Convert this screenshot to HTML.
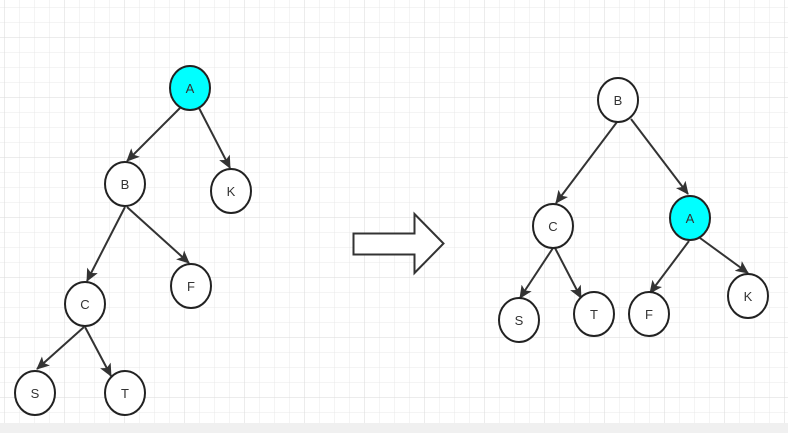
<!DOCTYPE html>
<html><head><meta charset="utf-8"><style>
html,body{margin:0;padding:0;width:788px;height:433px;overflow:hidden;background:#f0f0f0}
svg{display:block}
</style></head><body>
<svg id="s" width="788" height="433" xmlns="http://www.w3.org/2000/svg">
<defs>
<pattern id="minor" width="15" height="15" patternUnits="userSpaceOnUse" x="5" y="8">
<path d="M15 0V15M0 15H15" fill="none" stroke="#e8e8e8" stroke-width="1"/>
</pattern>
<pattern id="major" width="60" height="60" patternUnits="userSpaceOnUse" x="5" y="38">
<path d="M60 0V60M0 60H60" fill="none" stroke="#dadada" stroke-width="1"/>
</pattern>
<marker id="ah" markerWidth="14" markerHeight="12" refX="12" refY="6" orient="auto" markerUnits="userSpaceOnUse">
<path d="M0,0 L13,6 L0,12 L3,6 Z" fill="#333"/>
</marker>
</defs>
<rect x="0" y="0" width="788" height="423" fill="#fff"/>
<rect x="0" y="0" width="788" height="423" fill="url(#minor)"/>
<rect x="0" y="0" width="788" height="423" fill="url(#major)"/>
<g stroke="#333" stroke-width="2" fill="none" marker-end="url(#ah)">
<line x1="180" y1="108" x2="127" y2="161" marker-end="url(#ah)"/>
<line x1="199" y1="108" x2="230" y2="168" marker-end="url(#ah)"/>
<line x1="125" y1="207" x2="87" y2="281" marker-end="url(#ah)"/>
<line x1="127" y1="207" x2="189" y2="263" marker-end="url(#ah)"/>
<line x1="84" y1="327" x2="37" y2="369" marker-end="url(#ah)"/>
<line x1="85" y1="327" x2="111" y2="376" marker-end="url(#ah)"/>
<line x1="617" y1="122" x2="556" y2="203" marker-end="url(#ah)"/>
<line x1="631" y1="119" x2="688" y2="194" marker-end="url(#ah)"/>
<line x1="553" y1="248" x2="520" y2="298" marker-end="url(#ah)"/>
<line x1="555" y1="248" x2="581" y2="298" marker-end="url(#ah)"/>
<line x1="689" y1="241" x2="650" y2="293" marker-end="url(#ah)"/>
<line x1="700" y1="238" x2="748" y2="273" marker-end="url(#ah)"/>
</g>
<g id="nodes" font-family="Liberation Sans, sans-serif" font-size="13" fill="#333"></g>
<path d="M353.5 233.5H414.5V214L443.5 243.5L414.5 273V254.5H353.5Z" fill="#fff" stroke="#333" stroke-width="2"/>
</svg>
<script>
var N={
a:[190,88,'A',1],b:[125,184,'B'],k:[231,191,'K'],f:[191,286,'F'],c:[85,304,'C'],s:[35,393,'S'],t:[125,393,'T'],
B:[618,100,'B'],C:[553,226,'C'],A:[690,218,'A',1],S:[519,320,'S'],T:[594,314,'T'],F:[649,314,'F'],K:[748,296,'K']};
var rx=20,ry=22,ns='http://www.w3.org/2000/svg';
var ng=document.getElementById('nodes');
for(var k in N){var n=N[k];var el=document.createElementNS(ns,'ellipse');
el.setAttribute('cx',n[0]);el.setAttribute('cy',n[1]);el.setAttribute('rx',rx);el.setAttribute('ry',ry);
el.setAttribute('fill',n[3]?'#00ffff':'#fff');el.setAttribute('stroke','#222');el.setAttribute('stroke-width','2');ng.appendChild(el);
var t=document.createElementNS(ns,'text');t.setAttribute('x',n[0]);t.setAttribute('y',n[1]+5);t.setAttribute('text-anchor','middle');
t.textContent=n[2];ng.appendChild(t);}
</script>
</body></html>
